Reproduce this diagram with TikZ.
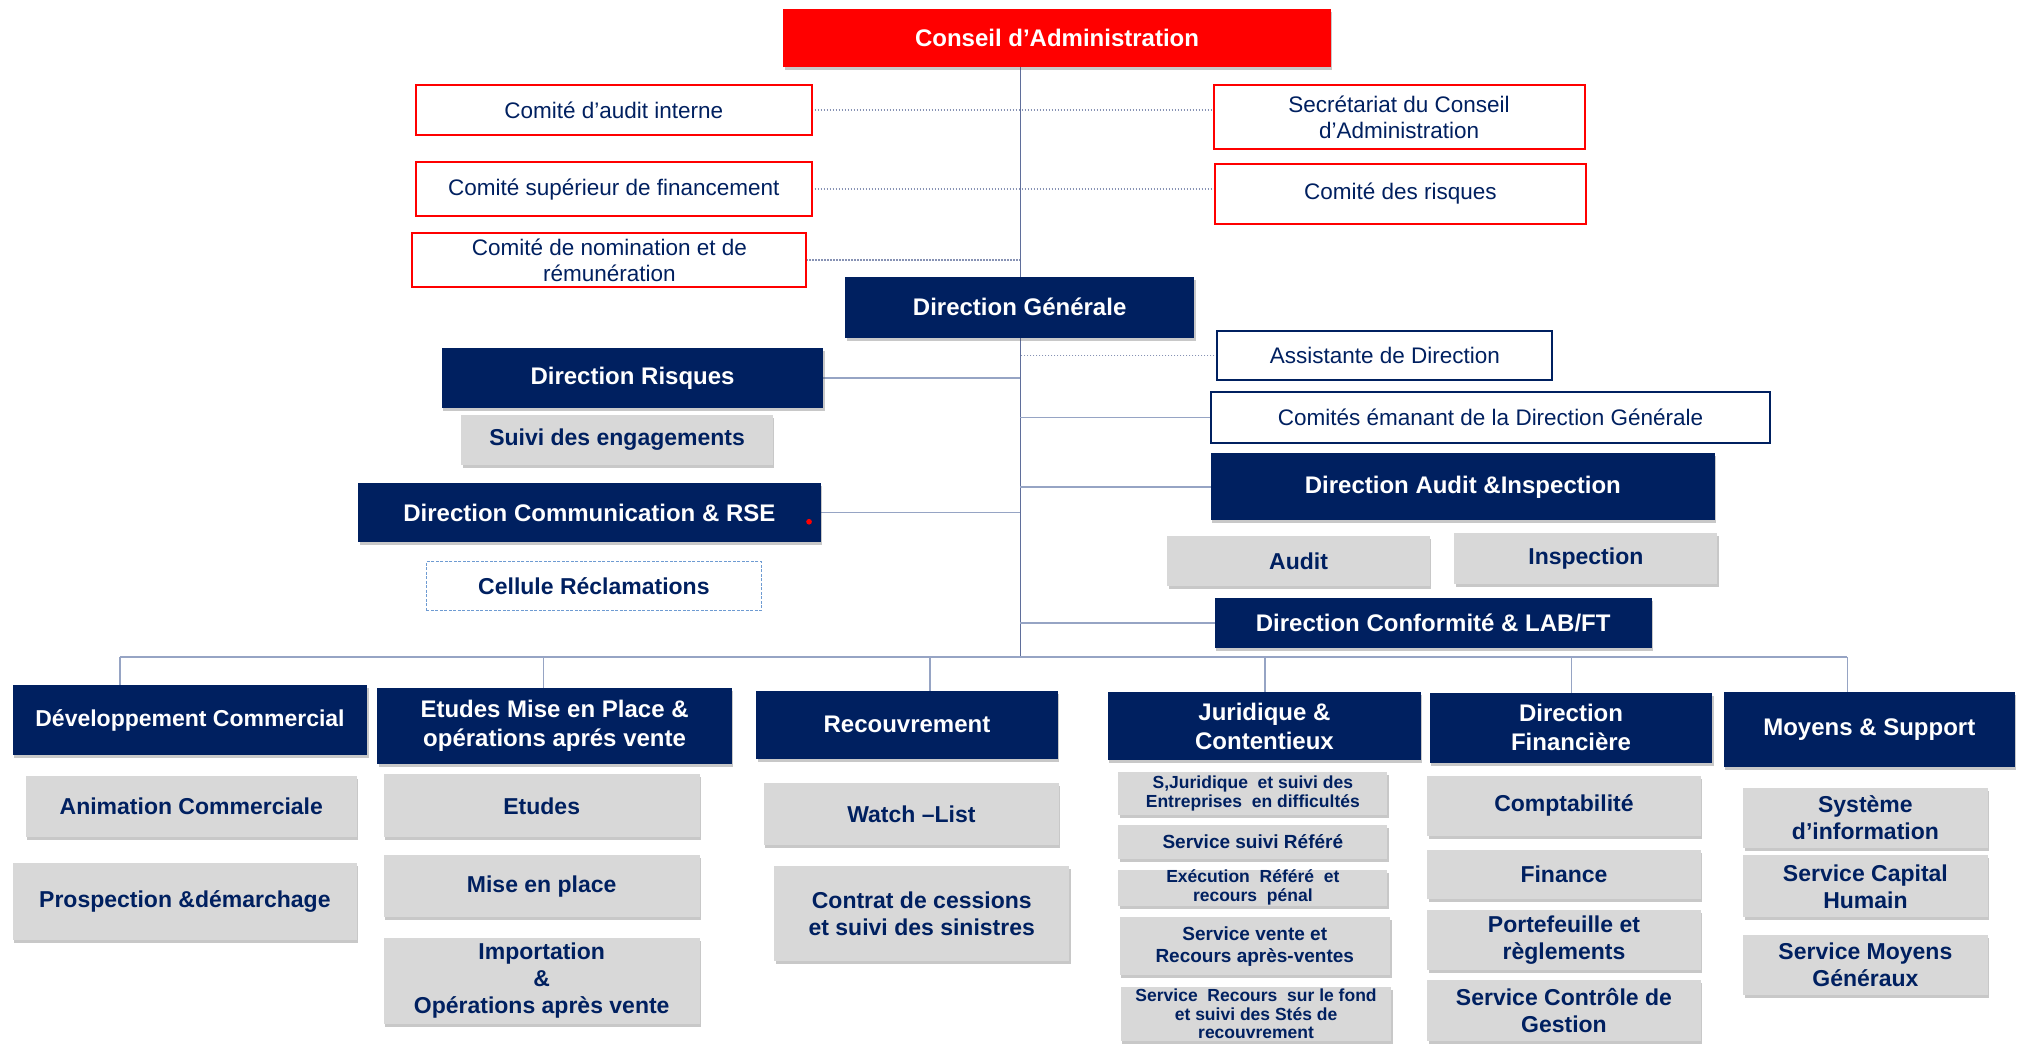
\documentclass[tikz,border=0pt]{standalone}
\usepackage{fontspec}
\setmainfont{Liberation Sans}
\usetikzlibrary{shadows}

\definecolor{navy}{RGB}{0,32,96}
\definecolor{boxgray}{RGB}{216,216,216}
\definecolor{lineblue}{RGB}{150,164,196}
\definecolor{trunkblue}{RGB}{95,110,155}
\definecolor{dashblue}{RGB}{110,155,210}
\definecolor{orgred}{RGB}{255,0,0}

\newcommand\hdrfont{\fontsize{24}{29}\selectfont\bfseries}
\newcommand\grayfont{\fontsize{23}{27}\selectfont\bfseries}
\newcommand\comfont{\fontsize{22.5}{26}\selectfont}
\newcommand\jurfont{\fontsize{17.5}{18.5}\selectfont\bfseries}
\newcommand\jurmidfont{\fontsize{19}{22}\selectfont\bfseries}

% box given by its corners (x1,y1) and (x2,y2) in picture units
\newcommand\orgbox[7]{%
  \pgfmathsetmacro\bcx{(#3+#5)/2}%
  \pgfmathsetmacro\bcy{(#4+#6)/2}%
  \pgfmathsetmacro\bw{(#5-#3)*1.2883}%
  \pgfmathsetmacro\bh{(#6-#4)*1.2883}%
  \node[#1, minimum width=\bw pt, minimum height=\bh pt] (#2) at (\bcx,\bcy) {#7};%
}

\pgfdeclarelayer{bg}
\pgfdeclarelayer{paper}
\pgfsetlayers{paper,bg,main}

\tikzset{
  box/.style={inner sep=0pt, outer sep=0pt, align=center},
  boxshadow/.style={drop shadow={shadow xshift=1.5pt, shadow yshift=-3pt, opacity=0.3, fill=black!70}},
  board/.style={box, fill=orgred, text=white, font=\hdrfont, boxshadow},
  hdr/.style={box, fill=navy, text=white, font=\hdrfont, boxshadow},
  com/.style={box, draw=orgred, line width=2pt, fill=white, text=navy, font=\comfont},
  asst/.style={box, draw=navy, line width=2pt, fill=white, text=navy, font=\comfont},
  gbox/.style={box, fill=boxgray, text=navy, font=\grayfont, boxshadow},
  jbox/.style={gbox, font=\jurfont},
  jmbox/.style={gbox, font=\jurmidfont},
  cell/.style={box, draw=dashblue, dash pattern=on 3pt off 1.5pt, line width=1.6pt, fill=white, text=navy, font=\grayfont},
  conn/.style={draw=lineblue, line width=1.4pt},
  trunk/.style={draw=trunkblue, line width=1.2pt},
  dotconn/.style={draw=trunkblue!75, line width=1.8pt, dash pattern=on 1.5pt off 1.5pt},
}

\begin{document}
\begin{tikzpicture}[x=1.2883pt, y=-1.2883pt]
\begin{pgfonlayer}{paper}
  \fill[white] (0,0) rectangle (1568,811);
\end{pgfonlayer}
\useasboundingbox (0,0) rectangle (1568,811);

% board and committees
\orgbox{board}{ca}{608}{7}{1033}{52}{Conseil d’Administration}
\orgbox{com}{cai}{323}{66}{630}{105}{Comité d’audit interne}
\orgbox{com}{sec}{942}{66}{1230}{116}{Secrétariat du Conseil\\d’Administration}
\orgbox{com}{csf}{323}{126}{630}{168}{Comité supérieur de financement}
\orgbox{com}{cr}{943}{127}{1231}{174}{Comité des risques}
\orgbox{com}{cnr}{320}{181}{626}{223}{Comité de nomination et de\\rémunération}

% general management and attached units
\orgbox{hdr}{dg}{656}{215}{927}{262}{Direction Générale}
\orgbox{asst}{ad}{945}{257}{1205}{295}{Assistante de Direction}
\orgbox{hdr}{dr}{343}{270}{639}{317}{Direction Risques}
\orgbox{gbox}{se}{358}{322}{600}{361}{Suivi des engagements}
\orgbox{asst}{ce}{940}{304}{1374}{344}{Comités émanant de la Direction Générale}
\orgbox{hdr}{dcr}{278}{375}{637}{421}{Direction Communication \& RSE}
\orgbox{hdr}{dai}{940}{352}{1331}{404}{Direction Audit \&Inspection}
\orgbox{cell}{cel}{331}{436}{591}{474}{Cellule Réclamations}
\orgbox{gbox}{au}{906}{416}{1110}{455}{Audit}
\orgbox{gbox}{ins}{1129}{414}{1333}{453}{Inspection}
\orgbox{hdr}{dcf}{943}{464}{1282}{503}{Direction Conformité \& LAB/FT}
\fill[orgred] (628,405) circle (2.2);

% operational departments
\orgbox{hdr,font=\fontsize{23}{27}\selectfont\bfseries}{devc}{10}{532}{285}{586}{Développement Commercial}
\orgbox{hdr}{emp}{293}{534}{568}{593}{Etudes Mise en Place \&\\opérations aprés vente}
\orgbox{hdr}{rec}{587}{536}{821}{589}{Recouvrement}
\orgbox{hdr}{jur}{860}{537}{1103}{590}{Juridique \&\\Contentieux}
\orgbox{hdr}{dfi}{1110}{538}{1329}{592}{Direction\\Financière}
\orgbox{hdr}{mys}{1338}{537}{1564}{595}{Moyens \& Support}

% services
\orgbox{gbox}{anim}{20}{602}{277}{650}{Animation Commerciale}
\orgbox{gbox}{pros}{10}{670}{277}{730}{Prospection \&démarchage}
\orgbox{gbox}{etu}{298}{601}{543}{650}{Etudes}
\orgbox{gbox}{mep}{298}{664}{543}{712}{Mise en place}
\orgbox{gbox}{imp}{298}{728}{543}{795}{Importation\\\&\\Opérations après vente}
\orgbox{gbox}{wl}{593}{608}{822}{656}{Watch –List}
\orgbox{gbox}{ccs}{601}{672}{830}{746}{Contrat de cessions\\et suivi des sinistres}
\orgbox{jbox}{sj}{868}{599}{1077}{633}{S,Juridique\ \ et suivi des\\Entreprises\ \ en difficultés}
\orgbox{jmbox}{ssr}{868}{640}{1077}{667}{Service suivi Référé}
\orgbox{jbox}{erp}{868}{675}{1077}{703}{Exécution\ \ Référé\ \ et\\recours\ \ pénal}
\orgbox{jmbox}{svr}{869}{712}{1079}{757}{Service vente et\\Recours après-ventes}
\orgbox{jbox}{srf}{870}{766}{1080}{808}{Service\ \ Recours\ \ sur le fond\\et suivi des Stés de\\recouvrement}
\orgbox{gbox}{cpt}{1108}{602}{1320}{649}{Comptabilité}
\orgbox{gbox}{fin}{1108}{660}{1320}{698}{Finance}
\orgbox{gbox}{prt}{1108}{706}{1320}{753}{Portefeuille et\\règlements}
\orgbox{gbox}{scg}{1108}{761}{1320}{808}{Service Contrôle de\\Gestion}
\orgbox{gbox}{si}{1353}{612}{1543}{658}{Système\\d’information}
\orgbox{gbox}{sch}{1353}{664}{1543}{712}{Service Capital\\Humain}
\orgbox{gbox}{smg}{1353}{726}{1543}{772}{Service Moyens\\Généraux}

% junction points of the distribution bus
\coordinate (bus) at (792,510);
\coordinate (d1) at (93,510);
\coordinate (d2) at (422,510);
\coordinate (d3) at (722,510);
\coordinate (d4) at (982,510);
\coordinate (d5) at (1220,510);
\coordinate (d6) at (1434,510);

\begin{pgfonlayer}{bg}
  % main trunk
  \draw[trunk] (ca.south -| bus) -- (bus);
  % committees
  \draw[dotconn] (cai.east) -- (cai.east -| sec.west);
  \draw[dotconn] (csf.east) -- (csf.east -| cr.west);
  \draw[dotconn] (cnr.east) -- (cnr.east -| bus);
  \draw[dotconn] (ad.west) -- (ad.west -| bus);
  % staff departments
  \draw[conn] (dr.east) -- (dr.east -| bus);
  \draw[conn] (ce.west) -- (ce.west -| bus);
  \draw[conn] (dcr.east) -- (dcr.east -| bus);
  \draw[conn] (dai.west) -- (dai.west -| bus);
  \draw[conn] (dcf.west) -- (dcf.west -| bus);
  % bus and drops
  \draw[conn] (d1) -- (d6);
  \draw[conn] (d1) -- (d1 |- devc.north);
  \draw[conn] (d2) -- (d2 |- emp.north);
  \draw[conn] (d3) -- (d3 |- rec.north);
  \draw[conn] (d4) -- (d4 |- jur.north);
  \draw[conn] (d5) -- (d5 |- dfi.north);
  \draw[conn] (d6) -- (d6 |- mys.north);
\end{pgfonlayer}
\end{tikzpicture}
\end{document}
